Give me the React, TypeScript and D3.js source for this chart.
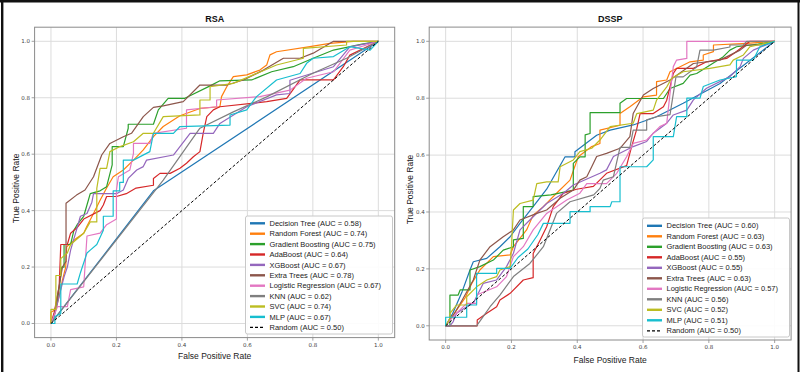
import React from 'react';
import * as d3 from 'd3';

type Pt = [number, number];

const modelNames = ['Decision Tree', 'Random Forest', 'Gradient Boosting', 'AdaBoost', 'XGBoost', 'Extra Trees', 'Logistic Regression', 'KNN', 'SVC', 'MLP'];
const modelColors = ['#1f77b4', '#ff7f0e', '#2ca02c', '#d62728', '#9467bd', '#8c564b', '#e377c2', '#7f7f7f', '#bcbd22', '#17becf'];
const rsaAuc = ['0.58', '0.74', '0.75', '0.64', '0.67', '0.78', '0.67', '0.62', '0.74', '0.67'];
const dsspAuc = ['0.60', '0.63', '0.63', '0.55', '0.55', '0.63', '0.57', '0.56', '0.52', '0.51'];
const randomAuc = '0.50';
const tickValues = [0, 0.2, 0.4, 0.6, 0.8, 1.0];
const tickLabels = ['0.0', '0.2', '0.4', '0.6', '0.8', '1.0'];
const diagonal: Pt[] = [[0, 0], [1, 1]];

// ---------- RSA ----------
const rsaDT: Pt[] = [[0, 0], [0.313, 0.47], [1, 1]];
const rsaRF: Pt[] = [[0, 0], [0, 0.04], [0.015, 0.05], [0.027, 0.107], [0.035, 0.154], [0.045, 0.2], [0.048, 0.272], [0.078, 0.302], [0.1, 0.32], [0.109, 0.343], [0.13, 0.39], [0.15, 0.437], [0.17, 0.48], [0.19, 0.52], [0.221, 0.544], [0.252, 0.579], [0.282, 0.615], [0.313, 0.662], [0.343, 0.698], [0.394, 0.736], [0.455, 0.762], [0.516, 0.768], [0.521, 0.804], [0.537, 0.839], [0.557, 0.875], [0.598, 0.881], [0.638, 0.898], [0.659, 0.916], [0.669, 0.952], [0.689, 0.963], [0.791, 0.981], [0.852, 0.993], [0.924, 1], [1, 1]];
const rsaGB: Pt[] = [[0, 0], [0.01, 0.03], [0.02, 0.08], [0.033, 0.2], [0.04, 0.2], [0.04, 0.28], [0.06, 0.28], [0.07, 0.33], [0.08, 0.35], [0.1, 0.38], [0.11, 0.42], [0.12, 0.46], [0.15, 0.47], [0.17, 0.485], [0.187, 0.562], [0.187, 0.627], [0.221, 0.627], [0.236, 0.692], [0.236, 0.706], [0.313, 0.706], [0.328, 0.757], [0.358, 0.798], [0.409, 0.798], [0.486, 0.842], [0.516, 0.86], [0.613, 0.863], [0.674, 0.892], [0.74, 0.91], [0.801, 0.94], [0.863, 0.969], [0.95, 0.99], [1, 1]];
const rsaAda: Pt[] = [[0, 0], [0.01, 0.04], [0.025, 0.13], [0.03, 0.28], [0.05, 0.28], [0.06, 0.32], [0.08, 0.34], [0.1, 0.37], [0.15, 0.4], [0.16, 0.42], [0.17, 0.45], [0.2, 0.45], [0.23, 0.46], [0.26, 0.48], [0.313, 0.49], [0.313, 0.514], [0.333, 0.532], [0.364, 0.532], [0.394, 0.55], [0.414, 0.568], [0.435, 0.591], [0.455, 0.609], [0.465, 0.674], [0.476, 0.733], [0.496, 0.757], [0.516, 0.768], [0.659, 0.786], [0.72, 0.798], [0.761, 0.863], [0.863, 0.863], [0.893, 0.91], [0.913, 0.951], [1, 1]];
const rsaXGB: Pt[] = [[0, 0], [0.01, 0.025], [0.03, 0.12], [0.04, 0.165], [0.05, 0.2], [0.06, 0.26], [0.08, 0.34], [0.09, 0.38], [0.11, 0.39], [0.125, 0.43], [0.13, 0.46], [0.2, 0.46], [0.221, 0.473], [0.236, 0.514], [0.262, 0.544], [0.282, 0.556], [0.292, 0.579], [0.374, 0.597], [0.394, 0.627], [0.425, 0.674], [0.496, 0.674], [0.516, 0.709], [0.598, 0.768], [0.689, 0.81], [0.73, 0.815], [0.73, 0.862], [0.863, 0.91], [0.913, 0.98], [1, 1]];
const rsaET: Pt[] = [[0, 0], [0.01, 0.03], [0.02, 0.1], [0.035, 0.2], [0.046, 0.22], [0.046, 0.426], [0.078, 0.455], [0.104, 0.473], [0.13, 0.52], [0.155, 0.597], [0.18, 0.638], [0.221, 0.662], [0.246, 0.674], [0.282, 0.733], [0.313, 0.766], [0.343, 0.771], [0.404, 0.786], [0.455, 0.845], [0.537, 0.845], [0.588, 0.863], [0.649, 0.898], [0.71, 0.94], [0.761, 0.94], [0.801, 0.958], [0.863, 1], [1, 1]];
const rsaLR: Pt[] = [[0, 0], [0.02, 0.06], [0.05, 0.06], [0.06, 0.12], [0.1, 0.13], [0.11, 0.31], [0.15, 0.32], [0.17, 0.35], [0.2, 0.37], [0.2, 0.473], [0.206, 0.52], [0.241, 0.544], [0.252, 0.603], [0.252, 0.638], [0.302, 0.638], [0.313, 0.674], [0.414, 0.692], [0.414, 0.757], [0.506, 0.768], [0.506, 0.792], [0.638, 0.804], [0.73, 0.827], [0.781, 0.869], [0.863, 0.892], [0.913, 0.969], [0.964, 0.987], [1, 1]];
const rsaKNN: Pt[] = [[0, 0], [0.343, 0.508], [0.455, 0.692], [0.557, 0.75], [0.659, 0.803], [0.8, 0.887], [0.903, 0.94], [1, 1]];
const rsaSVC: Pt[] = [[0, 0], [0, 0.05], [0.015, 0.05], [0.015, 0.17], [0.03, 0.17], [0.03, 0.23], [0.05, 0.25], [0.06, 0.28], [0.1, 0.32], [0.12, 0.36], [0.14, 0.36], [0.14, 0.479], [0.15, 0.55], [0.17, 0.55], [0.18, 0.609], [0.211, 0.627], [0.252, 0.644], [0.282, 0.674], [0.313, 0.674], [0.343, 0.733], [0.455, 0.739], [0.455, 0.792], [0.486, 0.792], [0.486, 0.839], [0.557, 0.851], [0.618, 0.881], [0.689, 0.916], [0.771, 0.94], [0.771, 0.975], [0.903, 0.987], [0.903, 1], [1, 1]];
const rsaMLP: Pt[] = [[0, 0], [0.012, 0], [0.012, 0.025], [0.03, 0.035], [0.03, 0.14], [0.08, 0.14], [0.09, 0.18], [0.11, 0.25], [0.12, 0.26], [0.14, 0.28], [0.16, 0.33], [0.16, 0.38], [0.19, 0.38], [0.19, 0.47], [0.21, 0.47], [0.21, 0.5], [0.221, 0.5], [0.221, 0.579], [0.252, 0.579], [0.302, 0.609], [0.313, 0.674], [0.374, 0.674], [0.394, 0.698], [0.547, 0.703], [0.547, 0.739], [0.598, 0.757], [0.628, 0.804], [0.689, 0.863], [0.761, 0.886], [0.781, 0.922], [0.801, 0.94], [0.863, 0.946], [0.913, 0.981], [0.975, 0.969], [1, 1]];

// ---------- DSSP ----------
const dsspDT: Pt[] = [[0, 0], [0.02, 0.04], [0.05, 0.12], [0.074, 0.196], [0.084, 0.225], [0.125, 0.237], [0.165, 0.278], [0.196, 0.313], [0.226, 0.36], [0.266, 0.419], [0.307, 0.48], [0.363, 0.594], [0.393, 0.594], [0.393, 0.612], [0.459, 0.67], [0.5, 0.688], [0.57, 0.706], [0.641, 0.735], [0.722, 0.782], [0.834, 0.852], [1, 1]];
const dsspRF: Pt[] = [[0, 0], [0.03, 0.05], [0.06, 0.1], [0.08, 0.15], [0.104, 0.196], [0.145, 0.243], [0.196, 0.249], [0.206, 0.278], [0.246, 0.337], [0.266, 0.389], [0.297, 0.419], [0.337, 0.466], [0.378, 0.512], [0.403, 0.594], [0.444, 0.63], [0.469, 0.641], [0.469, 0.688], [0.53, 0.705], [0.53, 0.746], [0.56, 0.77], [0.601, 0.805], [0.641, 0.811], [0.641, 0.858], [0.672, 0.864], [0.682, 0.893], [0.743, 0.928], [0.783, 0.934], [0.783, 0.952], [0.814, 0.964], [0.814, 0.987], [0.915, 0.993], [1, 1]];
const dsspGB: Pt[] = [[0, 0], [0.013, 0], [0.013, 0.108], [0.038, 0.108], [0.044, 0.126], [0.074, 0.126], [0.074, 0.196], [0.104, 0.208], [0.145, 0.231], [0.175, 0.266], [0.206, 0.278], [0.206, 0.302], [0.236, 0.307], [0.236, 0.419], [0.266, 0.419], [0.266, 0.454], [0.32, 0.46], [0.36, 0.47], [0.388, 0.477], [0.388, 0.571], [0.408, 0.594], [0.424, 0.594], [0.424, 0.671], [0.439, 0.676], [0.439, 0.749], [0.53, 0.749], [0.53, 0.782], [0.55, 0.799], [0.662, 0.799], [0.682, 0.834], [0.722, 0.852], [0.743, 0.881], [0.763, 0.887], [0.844, 0.946], [0.864, 0.969], [0.884, 0.981], [0.95, 0.99], [1, 1]];
const dsspAda: Pt[] = [[0, 0], [0.096, 0], [0.096, 0.02], [0.125, 0.044], [0.155, 0.067], [0.165, 0.091], [0.196, 0.114], [0.236, 0.161], [0.266, 0.169], [0.266, 0.254], [0.287, 0.301], [0.307, 0.348], [0.327, 0.419], [0.358, 0.466], [0.398, 0.48], [0.449, 0.49], [0.489, 0.536], [0.55, 0.563], [0.565, 0.629], [0.58, 0.688], [0.591, 0.746], [0.631, 0.746], [0.662, 0.77], [0.672, 0.793], [0.692, 0.887], [0.702, 0.905], [0.753, 0.905], [0.793, 0.928], [0.854, 0.94], [0.884, 0.964], [0.925, 1], [1, 1]];
const dsspXGB: Pt[] = [[0, 0], [0.013, 0], [0.023, 0.015], [0.033, 0.044], [0.064, 0.067], [0.084, 0.079], [0.114, 0.149], [0.155, 0.161], [0.185, 0.208], [0.206, 0.255], [0.226, 0.337], [0.256, 0.372], [0.307, 0.43], [0.358, 0.466], [0.388, 0.495], [0.469, 0.536], [0.489, 0.548], [0.51, 0.595], [0.57, 0.63], [0.611, 0.648], [0.631, 0.677], [0.672, 0.712], [0.692, 0.741], [0.733, 0.758], [0.753, 0.794], [0.793, 0.835], [0.864, 0.876], [0.895, 0.911], [0.905, 0.94], [0.935, 0.969], [1, 1]];
const dsspET: Pt[] = [[0, 0], [0.02, 0.03], [0.05, 0.09], [0.084, 0.161], [0.104, 0.231], [0.135, 0.278], [0.175, 0.313], [0.206, 0.337], [0.226, 0.372], [0.277, 0.395], [0.307, 0.407], [0.348, 0.448], [0.388, 0.477], [0.408, 0.512], [0.429, 0.524], [0.444, 0.559], [0.459, 0.595], [0.489, 0.606], [0.53, 0.624], [0.56, 0.665], [0.57, 0.746], [0.601, 0.811], [0.631, 0.834], [0.682, 0.864], [0.753, 0.922], [0.834, 0.934], [0.895, 0.969], [0.915, 0.987], [0.966, 0.987], [1, 1]];
const dsspLR: Pt[] = [[0, 0], [0.013, 0.02], [0.033, 0.044], [0.064, 0.079], [0.094, 0.079], [0.094, 0.108], [0.155, 0.137], [0.185, 0.173], [0.206, 0.243], [0.236, 0.278], [0.266, 0.337], [0.307, 0.395], [0.368, 0.442], [0.408, 0.466], [0.429, 0.5], [0.489, 0.5], [0.52, 0.536], [0.55, 0.594], [0.57, 0.641], [0.611, 0.653], [0.651, 0.7], [0.672, 0.712], [0.682, 0.817], [0.692, 0.911], [0.702, 0.934], [0.733, 0.94], [0.733, 1], [1, 1]];
const dsspKNN: Pt[] = [[0, 0], [0.094, 0], [0.114, 0.032], [0.135, 0.067], [0.165, 0.108], [0.206, 0.173], [0.256, 0.219], [0.297, 0.278], [0.337, 0.395], [0.378, 0.436], [0.45, 0.46], [0.469, 0.483], [0.479, 0.512], [0.51, 0.524], [0.53, 0.627], [0.56, 0.627], [0.57, 0.688], [0.611, 0.688], [0.611, 0.724], [0.641, 0.735], [0.682, 0.742], [0.7, 0.875], [0.722, 0.875], [0.763, 0.91], [0.773, 0.969], [0.814, 0.969], [0.864, 0.98], [0.864, 0.987], [0.905, 0.987], [0.915, 1], [1, 1]];
const dsspSVC: Pt[] = [[0, 0], [0.013, 0.026], [0.013, 0.044], [0.033, 0.073], [0.064, 0.073], [0.064, 0.102], [0.094, 0.137], [0.125, 0.161], [0.155, 0.173], [0.165, 0.196], [0.196, 0.208], [0.2, 0.278], [0.206, 0.407], [0.226, 0.43], [0.266, 0.442], [0.277, 0.5], [0.307, 0.506], [0.342, 0.506], [0.348, 0.559], [0.388, 0.583], [0.408, 0.612], [0.444, 0.624], [0.469, 0.653], [0.5, 0.7], [0.57, 0.712], [0.581, 0.746], [0.631, 0.758], [0.641, 0.793], [0.672, 0.84], [0.687, 0.87], [0.722, 0.893], [0.803, 0.905], [0.864, 0.917], [0.874, 0.934], [0.905, 0.952], [0.925, 0.981], [1, 1]];
const dsspMLP: Pt[] = [[0, 0], [0, 0.03], [0.064, 0.03], [0.064, 0.073], [0.094, 0.073], [0.094, 0.184], [0.155, 0.184], [0.155, 0.202], [0.196, 0.202], [0.22, 0.24], [0.25, 0.27], [0.28, 0.32], [0.297, 0.36], [0.378, 0.36], [0.378, 0.401], [0.439, 0.401], [0.439, 0.419], [0.5, 0.419], [0.505, 0.436], [0.53, 0.436], [0.53, 0.559], [0.611, 0.559], [0.631, 0.583], [0.631, 0.665], [0.692, 0.665], [0.702, 0.735], [0.733, 0.735], [0.733, 0.8], [0.773, 0.8], [0.783, 0.841], [0.834, 0.864], [0.884, 0.876], [0.884, 0.934], [0.935, 0.934], [0.955, 0.981], [1, 1]];

const rsaCurves = [rsaDT, rsaRF, rsaGB, rsaAda, rsaXGB, rsaET, rsaLR, rsaKNN, rsaSVC, rsaMLP];
const dsspCurves = [dsspDT, dsspRF, dsspGB, dsspAda, dsspXGB, dsspET, dsspLR, dsspKNN, dsspSVC, dsspMLP];

const SANS = '"Liberation Sans", Arial, sans-serif';
const TICKFONT = '"DejaVu Sans", sans-serif';

interface Layout {
  left: number; right: number; top: number; bottom: number;
  xTickBase: number; xLabelBase: number; yLabelX: number;
  legX: number; legY: number; legW: number; legH: number; legFirst: number; legRow: number;
}

const rsaLayout: Layout = { left: 34.6, right: 394.7, top: 27.2, bottom: 337.6, xTickBase: 346.5, xLabelBase: 359, yLabelX: 19, legX: 245.5, legY: 216, legW: 147, legH: 118, legFirst: 223.3, legRow: 10.4 };
const dsspLayout: Layout = { left: 429.2, right: 791.1, top: 27.1, bottom: 340, xTickBase: 349, xLabelBase: 362.5, yLabelX: 413, legX: 642.5, legY: 218, legW: 147, legH: 119, legFirst: 225.8, legRow: 10.5 };

function Panel({ title, curves, auc, L }: { title: string; curves: Pt[][]; auc: string[]; L: Layout }) {
  const x = d3.scaleLinear().domain([-0.05, 1.05]).range([L.left, L.right]);
  const y = d3.scaleLinear().domain([-0.05, 1.05]).range([L.bottom, L.top]);
  const line = d3.line<Pt>().x(d => x(d[0])).y(d => y(d[1]));
  const cx = (L.left + L.right) / 2;
  const cy = (L.top + L.bottom) / 2 + 6;
  return (
    <g>
      <rect x={L.left} y={L.top} width={L.right - L.left} height={L.bottom - L.top} fill="#fff" />
      {tickValues.map((t, i) => (
        <g key={'g' + i}>
          <line x1={x(t)} x2={x(t)} y1={L.top} y2={L.bottom} stroke="#dcdcdc" strokeWidth={1} />
          <line x1={L.left} x2={L.right} y1={y(t)} y2={y(t)} stroke="#dcdcdc" strokeWidth={1} />
        </g>
      ))}
      {curves.map((c, i) => (
        <path key={'c' + i} d={line(c) || ''} fill="none" stroke={modelColors[i]} strokeWidth={1.2} strokeLinejoin="round" />
      ))}
      <path d={line(diagonal) || ''} fill="none" stroke="#000" strokeWidth={1} strokeDasharray="3,2" />
      <rect x={L.left} y={L.top} width={L.right - L.left} height={L.bottom - L.top} fill="none" stroke="#8a8a8a" strokeWidth={1} />
      {tickValues.map((t, i) => (
        <g key={'t' + i}>
          <line x1={x(t)} x2={x(t)} y1={L.bottom} y2={L.bottom + 3} stroke="#8a8a8a" strokeWidth={0.8} />
          <text x={x(t)} y={L.xTickBase} textAnchor="middle" fontFamily={TICKFONT} fontSize={5.5} fill="#444">{tickLabels[i]}</text>
          <line x1={L.left - 3} x2={L.left} y1={y(t)} y2={y(t)} stroke="#8a8a8a" strokeWidth={0.8} />
          <text x={L.left - 4.5} y={y(t) + 2} textAnchor="end" fontFamily={TICKFONT} fontSize={5.5} fill="#444">{tickLabels[i]}</text>
        </g>
      ))}
      <text x={cx} y={21.5} textAnchor="middle" fontFamily={SANS} fontWeight="bold" fontSize={9} fill="#111">{title}</text>
      <text x={cx} y={L.xLabelBase} textAnchor="middle" fontFamily={SANS} fontSize={8.5} fill="#222">False Positive Rate</text>
      <text transform={`translate(${L.yLabelX},${cy}) rotate(-90)`} textAnchor="middle" fontFamily={SANS} fontSize={8.5} fill="#222">True Positive Rate</text>
      <rect x={L.legX} y={L.legY} width={L.legW} height={L.legH} rx={2} fill="#fff" fillOpacity={0.9} stroke="#c8c8c8" strokeWidth={1} />
      {modelNames.map((m, i) => {
        const ly = L.legFirst + i * L.legRow;
        return (
          <g key={'l' + i}>
            <line x1={L.legX + 4.5} x2={L.legX + 19.5} y1={ly} y2={ly} stroke={modelColors[i]} strokeWidth={2.4} />
            <text x={L.legX + 24} y={ly + 2.6} fontFamily={SANS} fontSize={7.5} fill="#222">{`${m} (AUC = ${auc[i]})`}</text>
          </g>
        );
      })}
      <line x1={L.legX + 4.5} x2={L.legX + 19.5} y1={L.legFirst + 10 * L.legRow} y2={L.legFirst + 10 * L.legRow} stroke="#000" strokeWidth={1.3} strokeDasharray="3,2" />
      <text x={L.legX + 24} y={L.legFirst + 10 * L.legRow + 2.6} fontFamily={SANS} fontSize={7.5} fill="#222">{`Random (AUC = ${randomAuc})`}</text>
    </g>
  );
}

export default function App() {
  return (
    <svg width={800} height={372} style={{ position: 'absolute', left: 0, top: 0, background: '#fff' }}>
      <rect x={0} y={0} width={800} height={372} fill="#fff" />
      <Panel title="RSA" curves={rsaCurves} auc={rsaAuc} L={rsaLayout} />
      <Panel title="DSSP" curves={dsspCurves} auc={dsspAuc} L={dsspLayout} />
      <line x1={0} x2={800} y1={1.2} y2={1.2} stroke="#111" strokeWidth={2.4} />
      <line x1={2.2} x2={2.2} y1={0} y2={372} stroke="#111" strokeWidth={2.4} />
      <line x1={798.5} x2={798.5} y1={0} y2={372} stroke="#111" strokeWidth={2} />
    </svg>
  );
}
